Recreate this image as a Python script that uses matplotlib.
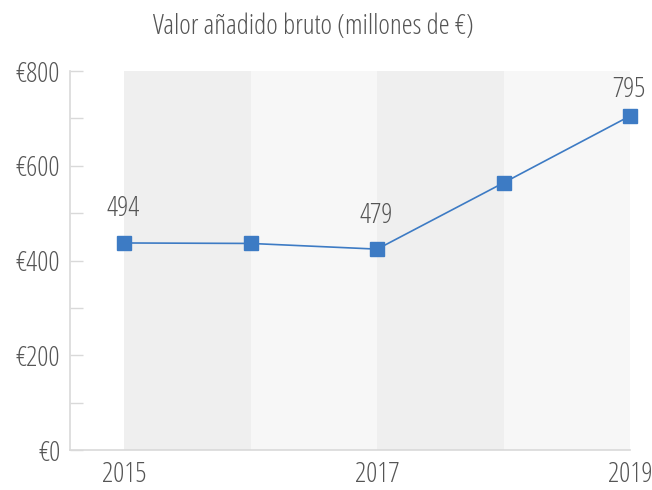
import matplotlib
matplotlib.use("Agg")
import matplotlib.pyplot as plt
from matplotlib.ticker import MultipleLocator, FuncFormatter

plt.rcParams['font.family'] = ['Open Sans', 'DejaVu Sans']
plt.rcParams['font.stretch'] = 'condensed'
plt.rcParams['font.weight'] = 300

years = [2015, 2016, 2017, 2018, 2019]
values = [437, 436, 424, 564, 705]
label_years = [2015, 2017, 2019]
label_texts = ["494", "479", "795"]
label_values = [437, 424, 705]
xtick_years = [2015, 2017, 2019]
band_colors = ["#efefef", "#f7f7f7", "#efefef", "#f7f7f7"]

# label offsets above markers (points) - styling only
label_offsets = [14.5, 14, 9]

text_color = "#555555"
line_color = "#3d7bc4"
fs = 20

fig = plt.figure(figsize=(6.52, 4.90), dpi=100)
ax = fig.add_axes([70/652, 1 - 450/490, (630-70)/652, (450-71)/490])

for i, c in enumerate(band_colors):
    ax.axvspan(years[i], years[i+1], color=c, zorder=0, lw=0)

ax.plot(years, values, color=line_color, lw=1.2, marker='s', markersize=10,
        markerfacecolor=line_color, markeredgecolor=line_color, clip_on=False, zorder=3)

for yr, txt, v, off in zip(label_years, label_texts, label_values, label_offsets):
    ax.annotate(txt, (yr, v), xytext=(-1, off), textcoords='offset points',
                ha='center', va='bottom', fontsize=fs, color=text_color)

ax.set_xlim(2014.57, 2019.0)
ax.set_ylim(0, 800)
ax.set_xticks(xtick_years)
ax.set_xticklabels([str(y) for y in xtick_years])
ax.yaxis.set_major_locator(MultipleLocator(200))
ax.yaxis.set_minor_locator(MultipleLocator(100))
ax.yaxis.set_major_formatter(FuncFormatter(lambda v, p: f"€{int(v)}"))

for s in ['top', 'right']:
    ax.spines[s].set_visible(False)
for s in ['left', 'bottom']:
    ax.spines[s].set_color('#d9d9d9')
    ax.spines[s].set_linewidth(1.2)

ax.tick_params(axis='y', which='both', direction='in', length=9, color='#d9d9d9',
               labelsize=fs, labelcolor=text_color, pad=7, width=1)
ax.tick_params(axis='x', length=0, labelsize=fs, labelcolor=text_color, pad=8)
ax.set_facecolor('white')

fig.text(313/652, 1 - 27/490, "Valor añadido bruto (millones de €)", ha='center', va='center',
         fontsize=fs, color=text_color)

fig.savefig("out.png", dpi=100)
